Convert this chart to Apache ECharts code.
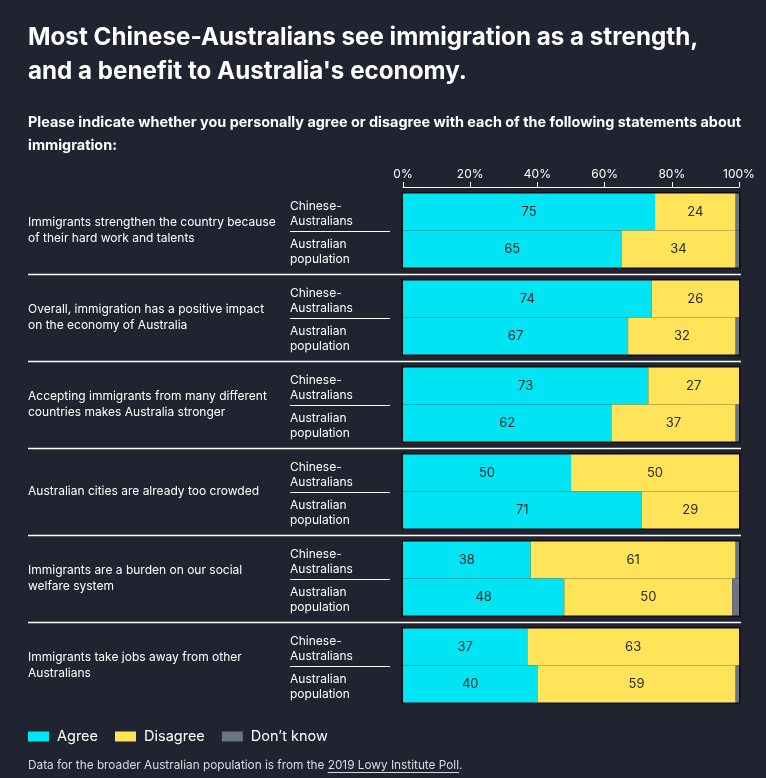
<!DOCTYPE html>
<html>
<head>
<meta charset="utf-8">
<script src="https://cdn.jsdelivr.net/npm/echarts@6/dist/echarts.min.js"></script>
<style>
html,body{margin:0;padding:0;background:#1f2430;}
#chart{width:766px;height:778px;}
</style>
</head>
<body>
<div id="chart"></div>
<script>
const statements = [
  'Immigrants strengthen the country because\nof their hard work and talents',
  'Overall, immigration has a positive impact\non the economy of Australia',
  'Accepting immigrants from many different\ncountries makes Australia stronger',
  'Australian cities are already too crowded',
  'Immigrants are a burden on our social\nwelfare system',
  'Immigrants take jobs away from other\nAustralians'
];
const groupLabels = ['Chinese-\nAustralians', 'Australian\npopulation'];
const tickLabels = ['0%', '20%', '40%', '60%', '80%', '100%'];
const agreeCA    = [75, 74, 73, 50, 38, 37];
const disagreeCA = [24, 26, 27, 50, 61, 63];
const dkCA       = [1, 0, 0, 0, 1, 0];
const agreeAU    = [65, 67, 62, 71, 48, 40];
const disagreeAU = [34, 32, 37, 29, 50, 59];
const dkAU       = [1, 1, 1, 0.5, 2, 1];

const C_AGREE = '#00e4f4', C_DIS = '#ffe45a', C_DK = '#6c7585';
const BG = '#1f2430';
const FONT = 'Inter, Roboto, "Noto Sans", sans-serif';
const footPrefix = 'Data for the broader Australian population is from the ';
const footLink = '2019 Lowy Institute Poll';

const chart = echarts.init(document.getElementById('chart'), null, {renderer: 'canvas'});

function barLabel(show) {
  return {
    show: show,
    position: 'inside',
    color: '#2a2a2a',
    fontSize: 13,
    fontFamily: FONT,
    formatter: p => (p.value > 2 ? p.value : '')
  };
}
function mk(name, data, stack, color, lbl) {
  return {
    name: name, type: 'bar', stack: stack, data: data,
    yAxisIndex: 0, xAxisIndex: 0,
    barGap: '0%', barCategoryGap: '15%',
    itemStyle: {color: color},
    label: barLabel(lbl),
    emphasis: {disabled: true},
    silent: true
  };
}

const option = {
  backgroundColor: BG,
  animation: false,
  textStyle: {fontFamily: FONT},
  title: [
    {
      left: 28, top: 21, padding: 0,
      text: 'Most Chinese-Australians see immigration as a strength,\nand a benefit to Australia\'s economy.',
      textStyle: {color: '#ffffff', fontSize: 24.2, fontWeight: 'bold', lineHeight: 34, fontFamily: FONT}
    },
    {
      left: 28, top: 111, padding: 0,
      text: 'Please indicate whether you personally agree or disagree with each of the following statements about\nimmigration:',
      textStyle: {color: '#ffffff', fontSize: 14.4, fontWeight: 'bold', lineHeight: 23, fontFamily: FONT}
    }
  ],
  legend: {
    left: 28, top: 729, padding: 0,
    itemWidth: 21, itemHeight: 10, itemGap: 17,
    icon: 'rect',
    textStyle: {color: '#ffffff', fontSize: 14.5, fontFamily: FONT, padding: [0, 0, 0, 3]},
    data: ['Agree', 'Disagree', 'Don\u2019t know'],
    selectedMode: false
  },
  grid: {left: 403, right: 27, top: 187, height: 522, containLabel: false},
  xAxis: {
    type: 'value', position: 'top', min: 0, max: 100, interval: 20,
    axisLine: {show: true, lineStyle: {color: '#ffffff', width: 1}},
    axisTick: {show: true, length: 5, lineStyle: {color: '#ffffff'}},
    axisLabel: {color: '#ffffff', fontSize: 12, margin: 7, fontFamily: FONT,
      formatter: v => tickLabels[Math.round(v / 20)]},
    splitLine: {show: false}
  },
  yAxis: {
    type: 'category', inverse: true, data: statements,
    axisLine: {show: false}, axisTick: {show: false}, splitLine: {show: false},
    axisLabel: {color: '#ffffff', fontSize: 12, lineHeight: 16, align: 'left', margin: 375,
      fontFamily: FONT, padding: [3, 0, 0, 0]}
  },
  series: [
    mk('Agree', agreeCA, 'ca', C_AGREE, true),
    mk('Disagree', disagreeCA, 'ca', C_DIS, true),
    mk('Don\u2019t know', dkCA, 'ca', C_DK, false),
    mk('Agree', agreeAU, 'au', C_AGREE, true),
    mk('Disagree', disagreeAU, 'au', C_DIS, true),
    mk('Don\u2019t know', dkAU, 'au', C_DK, false)
  ]
};
chart.setOption(option);

// separators, group sub-labels and dark outlines placed through the axis scales
const graphics = [];
const band = 522 / statements.length;
const x0 = chart.convertToPixel({xAxisIndex: 0}, 0);
const x100 = chart.convertToPixel({xAxisIndex: 0}, 100);
for (let i = 0; i < statements.length; i++) {
  const cy = chart.convertToPixel({yAxisIndex: 0}, i);
  const half = band * 0.85 / 2;
  graphics.push({
    type: 'rect', z: 0, silent: true,
    shape: {x: x0 - 1.5, y: cy - half - 1.5, width: x100 - x0 + 3, height: half * 2 + 3},
    style: {fill: '#120d10'}
  });
  graphics.push({
    type: 'line', silent: true,
    shape: {x1: 290, y1: Math.round(cy) + 0.5, x2: 390, y2: Math.round(cy) + 0.5},
    style: {stroke: '#ffffff', lineWidth: 1}
  });
  [0, 1].forEach(k => {
    graphics.push({
      type: 'text', silent: true,
      x: 290, y: cy + (k === 0 ? -half / 2 + 2 : half / 2 + 3),
      style: {text: groupLabels[k], fill: '#ffffff', font: '12px ' + FONT,
        lineHeight: 15, textAlign: 'left', textVerticalAlign: 'middle'}
    });
  });
  if (i < statements.length - 1) {
    const sy = Math.round(cy + band / 2) + 0.5;
    graphics.push({
      type: 'line', silent: true,
      shape: {x1: 28, y1: sy, x2: 741, y2: sy},
      style: {stroke: '#ffffff', lineWidth: 1.5}
    });
  }
}
// footer with underlined poll link
const FOOT_FONT = '11.8px ' + FONT;
const ctx = document.createElement('canvas').getContext('2d');
ctx.font = FOOT_FONT;
const wPre = ctx.measureText(footPrefix).width;
const wLink = ctx.measureText(footLink).width;
graphics.push({
  type: 'text', silent: true, x: 28, y: 765,
  style: {text: footPrefix, fill: '#d8dbe0', font: FOOT_FONT, textVerticalAlign: 'middle'}
});
graphics.push({
  type: 'text', silent: true, x: 28 + wPre, y: 765,
  style: {text: footLink + '.', fill: '#d8dbe0', font: FOOT_FONT, textVerticalAlign: 'middle'}
});
graphics.push({
  type: 'line', silent: true,
  shape: {x1: 28 + wPre, y1: 772.5, x2: 28 + wPre + wLink, y2: 772.5},
  style: {stroke: '#d8dbe0', lineWidth: 1}
});
chart.setOption({graphic: graphics});
</script>
</body>
</html>
